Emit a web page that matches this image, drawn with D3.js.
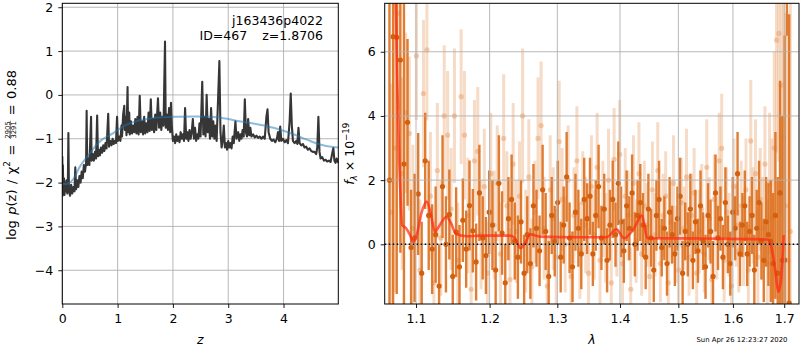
<!DOCTYPE html>
<html><head><meta charset="utf-8">
<script src="https://cdn.jsdelivr.net/npm/d3@7"></script>
<style>body{margin:0;background:#fff} text{font-family:"DejaVu Sans",sans-serif}</style>
</head><body><svg id="c" width="800" height="350"></svg>
<script>
// ---------- Left panel: log p(z) ----------
const zGrid = [0.00,0.005,0.01,0.02,0.03,0.04,0.05,0.06,0.075,0.09,
0.10,0.11,0.12,0.14,0.16,0.18,0.20,0.22,0.235,0.25,
0.27,0.29,0.31,0.33,0.35,0.37,0.39,0.41,0.43,0.44,
0.45,0.47,0.49,0.52,0.53,0.55,0.57,0.59,0.61,0.63,
0.645,0.66,0.68,0.70,0.72,0.74,0.76,0.78,0.80,0.83,
0.845,0.87,0.89,0.91,0.93,0.95,0.97,0.99,1.005,1.03,
1.05,1.07,1.08,1.10,1.12,1.13,1.15,1.16,1.18,1.19,
1.21,1.22,1.24,1.26,1.28,1.30,1.32,1.34,1.36,1.38,
1.40,1.42,1.44,1.46,1.48,1.50,1.52,1.54,1.56,1.58,
1.60,1.62,1.64,1.66,1.68,1.70,1.73,1.75,1.77,1.79,
1.81,1.83,1.857,1.87,1.89,1.91,1.93,1.95,1.965,1.98,
2.00,2.02,2.04,2.06,2.08,2.10,2.12,2.14,2.16,2.18,
2.20,2.22,2.24,2.26,2.28,2.30,2.32,2.34,2.36,2.38,
2.40,2.42,2.44,2.46,2.48,2.50,2.53,2.55,2.57,2.59,
2.61,2.63,2.65,2.67,2.69,2.71,2.73,2.75,2.77,2.79,
2.84,2.86,2.88,2.90,2.92,2.94,2.96,2.98,3.00,3.02,
3.04,3.06,3.08,3.10,3.13,3.15,3.18,3.20,3.22,3.24,
3.26,3.28,3.30,3.32,3.34,3.36,3.38,3.40,3.42,3.45,
3.48,3.51,3.54,3.57,3.60,3.63,3.66,3.69,3.71,3.73,
3.76,3.79,3.82,3.85,3.88,3.90,3.92,3.94,3.96,3.99,
4.02,4.05,4.08,4.11,4.13,4.15,4.17,4.20,4.23,4.25,
4.27,4.29,4.32,4.35,4.38,4.41,4.44,4.47,4.50,4.53,
4.56,4.59,4.61,4.63,4.65,4.67,4.70,4.73,4.76,4.79,
4.82,4.85,4.87,4.90,4.92,4.94,4.96,4.99];
const logPz = [-1.40,-2.30,-1.60,-2.25,-1.90,-2.28,-2.00,-2.20,-1.95,-2.25,
-2.10,-0.87,-2.15,-2.30,-2.05,-2.25,-2.10,-2.20,-1.65,-2.15,
-1.95,-2.10,-1.85,-2.00,-1.75,-1.90,-1.60,-1.75,-1.55,-0.36,
-1.60,-1.45,-1.60,-0.50,-1.50,-1.35,-1.50,-1.30,-1.45,-0.47,
-1.40,-1.25,-1.38,-1.20,-1.32,-1.15,-1.28,-1.10,-1.22,-0.43,
-1.18,-1.05,-1.15,-1.00,-1.12,-1.05,-1.10,-0.50,-1.05,-0.95,
-1.05,-0.70,-0.95,-0.45,-0.25,-0.80,-0.50,-0.92,0.18,-0.85,
-0.40,-0.90,-0.60,-0.88,-0.70,-0.85,-0.55,-0.88,-0.50,-0.90,
-0.02,-0.85,-0.60,-0.90,-0.50,-0.88,-0.65,-0.85,-0.40,-0.82,
-0.10,-0.80,-0.55,-0.85,-0.45,-0.80,-0.08,-0.75,-0.40,-0.80,
-0.50,-0.70,1.22,-0.75,-0.45,-0.80,-0.30,-0.85,-0.18,-0.70,
-1.05,-0.95,-1.10,-0.90,-1.05,-0.95,-1.08,-0.85,-1.00,-0.90,
-1.05,-0.30,-1.00,-0.85,-1.05,-0.80,-1.00,-0.85,-0.55,-1.00,
-0.75,-1.05,-0.90,-1.00,-0.65,-0.95,0.30,-0.90,-0.50,-0.95,
0.00,-0.85,-0.55,-1.00,-0.30,-0.95,-0.60,-1.00,-0.70,-1.05,
0.77,-0.85,-1.20,-1.05,-0.70,-1.20,-1.10,-1.25,-1.05,-1.20,
-1.10,-1.22,-0.95,-1.10,-0.60,-1.00,-0.85,-1.05,-0.90,-1.00,
-0.80,-0.95,-0.10,-0.85,-0.95,-0.55,-0.92,-0.75,-0.95,-0.90,
-0.97,-0.93,-0.98,-0.95,-1.00,-0.95,-1.00,-0.50,-0.33,-0.85,
-1.00,-1.05,-1.02,-1.08,-1.00,-0.85,-1.05,-0.72,-1.05,-1.00,
-1.08,-1.03,-1.10,-0.60,0.03,-0.70,-1.05,-1.10,-1.05,-1.12,
-0.75,-1.10,-1.15,-1.12,-1.20,-1.18,-1.25,-1.22,-1.28,-1.30,
-1.30,-1.35,-1.20,-0.50,-1.30,-1.45,-1.42,-1.50,-1.48,-1.52,
-1.50,-1.53,-1.40,-1.21,-1.50,-1.55,-1.45,-1.55];
const zSmooth = [0,0.1,0.2,0.32,0.5,0.68,0.92,1.16,1.4,1.68,2.0,2.4,2.8,3.2,3.57,3.82,4.12,4.42,4.66,4.9,4.99];
const logPSmooth = [-2.03,-2.02,-1.92,-1.63,-1.33,-1.06,-0.87,-0.68,-0.58,-0.52,-0.5,-0.49,-0.51,-0.6,-0.68,-0.75,-0.87,-1.02,-1.13,-1.19,-1.2];
const zTicks = [0,1,2,3,4];
const pTicks = [-4,-3,-2,-1,0,1,2];

// ---------- Right panel: spectrum ----------
const waveA = [1.0660,1.0706,1.0752,1.0798,1.0844,1.0890,1.0936,1.0982,1.1028,1.1074,
1.1120,1.1166,1.1212,1.1258,1.1304,1.1350,1.1396,1.1442,1.1488,1.1534,
1.1580,1.1626,1.1672,1.1718,1.1764,1.1810,1.1856,1.1902,1.1948,1.1994,
1.2040,1.2086,1.2132,1.2178,1.2224,1.2270,1.2316,1.2362,1.2408,1.2454,
1.2500,1.2546,1.2592,1.2638,1.2684,1.2730,1.2776,1.2822,1.2868,1.2914,
1.2960,1.3006,1.3052,1.3098,1.3144,1.3190,1.3236,1.3282,1.3328,1.3374,
1.3420,1.3466,1.3512,1.3558,1.3604,1.3650,1.3696,1.3742,1.3788,1.3834,
1.3880,1.3926,1.3972,1.4018,1.4064,1.4110,1.4156,1.4202,1.4248,1.4294,
1.4340,1.4386,1.4432,1.4478,1.4524,1.4570,1.4616,1.4662,1.4708,1.4754,
1.4800,1.4846,1.4892,1.4938,1.4984,1.5030,1.5076,1.5122,1.5168,1.5214,
1.5260,1.5306,1.5352,1.5398,1.5444,1.5490,1.5536,1.5582,1.5628,1.5674,
1.5720,1.5766,1.5812,1.5858,1.5904,1.5950,1.5996,1.6042,1.6088,1.6134,
1.6180,1.6226,1.6272,1.6318,1.6364,1.6410,1.6456,1.6502,1.6548,1.6594,
1.6640,1.6686,1.6732,1.6778,1.6824,1.6870,1.6916,1.6962,1.7008,1.7054,1.7100];
const fluxA = [2.0,6.47,6.45,5.74,2.5,3.8,
-0.1,0.2,1.57,-0.9,2.6,0.9,-0.15,0.3,-1.3,1.8,0.0,0.93,-1.0,0.38,-0.7,
0.75,-0.15,1.21,0.42,-0.55,1.6,0.2,-0.35,1.0,0.6,-0.8,1.9,0.35,-1.2,0.8,1.4,0.1,-0.4,0.7,-0.9,
0.3,-0.6,1.2,0.5,-0.2,1.7,0.4,-1.0,0.9,0.1,1.3,-0.4,0.6,2.1,0.2,-0.7,1.0,0.5,-0.3,1.4,
0.8,1.5,-0.3,0.9,1.8,0.2,1.1,-0.5,0.6,1.4,0.3,1.9,0.7,-0.2,1.2,0.5,1.6,0.0,0.9,1.3,
0.6,-0.4,1.1,0.2,-0.8,0.9,1.4,-0.1,0.5,-0.6,1.0,0.3,-0.3,0.8,1.5,-0.9,0.4,0.0,1.1,-0.5,
0.7,-0.2,1.2,0.1,-0.7,0.9,0.4,-1.0,1.6,0.2,0.8,-0.4,1.3,0.0,-0.6,1.0,0.5,2.2,-0.3,0.6,
1.2,-0.3,0.4,0.9,-0.8,0.5,1.3,0.1,-0.5,0.7,0.3,
0.1,-0.6,0.9,-0.9,1.6,-0.5,-0.49,12.0,-1.83];
const errA = [9.0,9.0,8.0,6.0,5.0,2.6,
1.8,2.0,1.9,1.6,1.5,1.7,1.4,1.5,1.3,1.6,1.5,1.4,1.3,1.4,1.3,
1.3,1.2,1.4,1.3,1.2,1.5,1.3,1.2,1.3,1.4,1.2,1.5,1.3,1.2,1.3,1.4,1.2,1.3,1.3,1.2,
1.2,1.1,1.3,1.2,1.1,1.4,1.2,1.1,1.2,1.1,1.3,1.1,1.2,1.4,1.1,1.1,1.2,1.2,1.1,1.3,
1.1,1.2,1.0,1.1,1.3,1.0,1.1,1.0,1.1,1.2,1.0,1.3,1.1,1.0,1.1,1.0,1.2,1.0,1.1,1.2,
1.0,1.0,1.1,0.9,1.0,1.1,1.2,0.9,1.0,1.0,1.1,0.9,1.0,1.0,1.2,1.0,0.9,1.0,1.1,0.9,
1.0,1.0,1.1,0.9,1.0,1.0,1.0,1.1,1.2,1.0,1.0,1.0,1.1,0.9,1.0,1.1,1.0,1.3,1.0,1.0,
1.1,1.0,1.1,1.2,1.1,1.2,1.3,1.2,1.3,1.4,1.6,
1.9,2.2,2.6,3.0,3.5,4.5,7.0,5.5,9.0];
const waveB = [1.0683,1.0729,1.0775,1.0821,1.0867,1.0913,1.0959,1.1005,1.1051,1.1097,
1.1143,1.1189,1.1235,1.1281,1.1327,1.1373,1.1419,1.1465,1.1511,1.1557,
1.1603,1.1649,1.1695,1.1741,1.1787,1.1833,1.1879,1.1925,1.1971,1.2017,
1.2063,1.2109,1.2155,1.2201,1.2247,1.2293,1.2339,1.2385,1.2431,1.2477,
1.2523,1.2569,1.2615,1.2661,1.2707,1.2753,1.2799,1.2845,1.2891,1.2937,
1.2983,1.3029,1.3075,1.3121,1.3167,1.3213,1.3259,1.3305,1.3351,1.3397,
1.3443,1.3489,1.3535,1.3581,1.3627,1.3673,1.3719,1.3765,1.3811,1.3857,
1.3903,1.3949,1.3995,1.4041,1.4087,1.4133,1.4179,1.4225,1.4271,1.4317,
1.4363,1.4409,1.4455,1.4501,1.4547,1.4593,1.4639,1.4685,1.4731,1.4777,
1.4823,1.4869,1.4915,1.4961,1.5007,1.5053,1.5099,1.5145,1.5191,1.5237,
1.5283,1.5329,1.5375,1.5421,1.5467,1.5513,1.5559,1.5605,1.5651,1.5697,
1.5743,1.5789,1.5835,1.5881,1.5927,1.5973,1.6019,1.6065,1.6111,1.6157,
1.6203,1.6249,1.6295,1.6341,1.6387,1.6433,1.6479,1.6525,1.6571,1.6617,
1.6663,1.6709,1.6755,1.6801,1.6847,1.6893,1.6939,1.6985,1.7031,1.7077,1.7123];
const fluxB = [1.0,3.0,7.2,2.2,4.1,3.45,0.5,5.87,-0.8,4.7,
6.06,1.5,-1.2,2.3,0.2,4.0,3.4,1.1,4.0,-0.5,
4.6,3.4,0.9,-1.4,2.6,2.9,0.3,1.8,-0.9,2.2,
0.6,1.9,-0.3,3.3,1.2,-1.1,2.5,0.4,1.5,4.0,
0.1,2.1,-0.7,1.0,3.3,3.7,0.5,-1.3,1.7,0.8,
-0.4,3.2,1.4,0.0,2.0,-1.0,0.9,2.6,-0.2,1.3,
0.6,-0.9,1.8,0.3,2.4,-0.5,1.1,0.2,2.0,-1.2,
2.65,0.4,2.8,-0.6,1.5,0.9,-1.4,1.9,0.1,2.2,
-0.3,1.2,0.6,-1.0,1.7,0.3,2.3,-0.6,0.9,1.5,
-1.2,0.7,1.9,0.0,-0.8,1.3,0.5,2.1,-0.4,0.9,
1.6,-0.9,0.4,1.1,-0.3,2.4,0.8,-1.1,1.4,0.2,
2.6,2.99,-0.5,1.0,0.3,-1.3,1.8,0.6,-0.2,1.2,
0.1,1.7,-0.8,3.22,0.9,2.2,-0.4,1.4,0.5,2.5,
-0.6,1.9,0.8,3.0,6.36,6.57,4.96,3.33,1.2,-0.5,0.4];
const errB = [4.0,4.5,3.0,3.0,2.5,2.4,2.6,2.0,2.2,2.3,
2.2,2.0,1.9,2.1,1.8,2.2,2.0,1.9,2.1,1.8,
2.1,2.0,1.8,1.7,1.9,2.0,1.7,1.8,1.6,1.9,
1.7,1.8,1.6,2.0,1.7,1.6,1.9,1.6,1.7,2.1,
1.6,1.8,1.5,1.6,1.9,2.0,1.6,1.5,1.7,1.6,
1.5,1.9,1.6,1.5,1.7,1.4,1.5,1.7,1.5,1.6,
1.5,1.4,1.6,1.4,1.7,1.4,1.5,1.4,1.6,1.3,
1.6,1.4,1.7,1.3,1.5,1.4,1.3,1.5,1.3,1.6,
1.3,1.4,1.3,1.2,1.5,1.3,1.5,1.2,1.3,1.4,
1.2,1.3,1.5,1.2,1.2,1.4,1.3,1.5,1.2,1.3,
1.4,1.2,1.3,1.4,1.2,1.5,1.3,1.2,1.4,1.3,
1.5,1.7,1.3,1.4,1.3,1.2,1.5,1.3,1.3,1.4,
1.4,1.6,1.4,1.9,1.5,1.7,1.5,1.6,1.6,1.8,
2.0,2.2,2.5,3.0,3.5,4.0,4.0,4.5,6.0,7.0,8.0];
const modelWave = [1.0700,1.0740,1.0760,1.0785,1.0805,1.0820,1.0872,1.0920,1.0965,1.1010,
1.1070,1.1139,1.1190,1.1248,1.1300,1.1403,1.1460,1.1534,1.1680,1.1864,
1.2291,1.2364,1.2447,1.2510,1.2595,1.2735,1.3351,1.3778,1.3940,1.4067,
1.4218,1.4370,1.4460,1.5500,1.6670,1.6743,1.6810,1.6890,1.6940,1.6990];
const modelFlux = [10.0,7.5,5.0,2.5,1.2,0.6,0.5,0.3,0.08,0.3,
0.97,1.33,1.0,0.39,0.55,0.86,0.68,0.32,0.25,0.27,
0.27,0.19,-0.12,0.03,0.31,0.24,0.22,0.22,0.47,0.19,
0.45,0.90,0.19,0.18,0.15,-0.07,-0.69,-1.48,-1.0,0.29];
const lamTicks = [1.1,1.2,1.3,1.4,1.5,1.6,1.7];
const fTicks = [0,2,4,6];

// ---------- drawing ----------
const svg = d3.select('#c');
const FS = 12.5;
const L = {x0:62.3, x1:338.3, y0:3.3, y1:304};
const R = {x0:384.7, x1:799, y0:3.3, y1:304};
const xL = d3.scaleLinear().domain([0,4.99]).range([L.x0,L.x1]);
const yL = d3.scaleLinear().domain([-4.77,2.09]).range([L.y1,L.y0]);
const xR = d3.scaleLog().domain([1.06,1.73]).range([R.x0,R.x1]);
const yR = d3.scaleLinear().domain([-1.86,7.51]).range([R.y1,R.y0]);

const defs = svg.append('defs');
defs.append('clipPath').attr('id','clipL').append('rect').attr('x',L.x0).attr('y',L.y0).attr('width',L.x1-L.x0).attr('height',L.y1-L.y0);
defs.append('clipPath').attr('id','clipR').append('rect').attr('x',R.x0).attr('y',R.y0).attr('width',R.x1-R.x0).attr('height',R.y1-R.y0);

function grid(g, P, xs, ys, xt, yt) {
  g.selectAll('line.gx').data(xt).join('line').attr('class','gx')
    .attr('x1',d=>xs(d)).attr('x2',d=>xs(d)).attr('y1',P.y0).attr('y2',P.y1)
    .attr('stroke','#b0b0b0').attr('stroke-width',0.9);
  g.selectAll('line.gy').data(yt).join('line').attr('class','gy')
    .attr('x1',P.x0).attr('x2',P.x1).attr('y1',d=>ys(d)).attr('y2',d=>ys(d))
    .attr('stroke','#b0b0b0').attr('stroke-width',0.9);
}
function styleAxis(g) {
  g.attr('font-size',FS).attr('font-family','DejaVu Sans');
  g.select('.domain').remove();
  g.selectAll('.tick line').attr('stroke','#000').attr('stroke-width',0.9);
  g.selectAll('.tick text').attr('fill','#000');
}

// Left panel
const gLg = svg.append('g');
grid(gLg, L, xL, yL, zTicks, pTicks);
const gL = svg.append('g').attr('clip-path','url(#clipL)');
gL.append('path').datum(d3.zip(zGrid, logPz))
  .attr('d', d3.line().x(d=>xL(d[0])).y(d=>yL(d[1])))
  .attr('fill','none').attr('stroke','#363636').attr('stroke-width',2.1).attr('stroke-linejoin','round');
gL.append('path').datum(d3.zip(zSmooth, logPSmooth))
  .attr('d', d3.line().curve(d3.curveCatmullRom).x(d=>xL(d[0])).y(d=>yL(d[1])))
  .attr('fill','none').attr('stroke','#1f77b4').attr('stroke-opacity',0.5).attr('stroke-width',2);

svg.append('g').attr('transform',`translate(0,${L.y1})`)
  .call(d3.axisBottom(xL).tickValues(zTicks).tickSize(4).tickPadding(6).tickFormat(d3.format('d'))).call(styleAxis);
svg.append('g').attr('transform',`translate(${L.x0},0)`)
  .call(d3.axisLeft(yL).tickValues(pTicks).tickSize(4).tickPadding(5).tickFormat(d3.format('d'))).call(styleAxis);
svg.append('rect').attr('x',L.x0).attr('y',L.y0).attr('width',L.x1-L.x0).attr('height',L.y1-L.y0)
  .attr('fill','none').attr('stroke','#000').attr('stroke-width',1);

svg.append('text').attr('x',323).attr('y',25).attr('text-anchor','end').attr('font-size',FS).text('j163436p4022');
svg.append('text').attr('x',199.5).attr('y',39.5).attr('font-size',FS).text('ID=467');
svg.append('text').attr('x',323).attr('y',39.5).attr('text-anchor','end').attr('font-size',FS).text('z=1.8706');

// Right panel
const gR = svg.append('g').attr('clip-path','url(#clipR)');
const ptsB = d3.zip(waveB, fluxB, errB);
const ptsA = d3.zip(waveA, fluxA, errA);
gR.selectAll('line.eb').data(ptsB).join('line').attr('class','eb')
  .attr('x1',d=>xR(d[0])).attr('x2',d=>xR(d[0])).attr('y1',d=>yR(d[1]-d[2])).attr('y2',d=>yR(d[1]+d[2]))
  .attr('stroke','#e8a06a').attr('stroke-opacity',0.38).attr('stroke-width',3);
gR.selectAll('circle.mb').data(ptsB).join('circle').attr('class','mb')
  .attr('cx',d=>xR(d[0])).attr('cy',d=>yR(d[1])).attr('r',2.6)
  .attr('fill','#e8a06a').attr('fill-opacity',0.5);
gR.selectAll('line.ea').data(ptsA).join('line').attr('class','ea')
  .attr('x1',d=>xR(d[0])).attr('x2',d=>xR(d[0])).attr('y1',d=>yR(d[1]-d[2])).attr('y2',d=>yR(d[1]+d[2]))
  .attr('stroke','#dd6f1d').attr('stroke-opacity',0.9).attr('stroke-width',2.4);
gR.selectAll('circle.ma').data(ptsA).join('circle').attr('class','ma')
  .attr('cx',d=>xR(d[0])).attr('cy',d=>yR(d[1])).attr('r',2.6)
  .attr('fill','#d2600f');
const gRg = svg.append('g');
grid(gRg, R, xR, yR, lamTicks, fTicks);
const gR2 = svg.append('g').attr('clip-path','url(#clipR)');
gR2.append('path').datum(d3.zip(modelWave, modelFlux))
  .attr('d', d3.line().curve(d3.curveMonotoneX).x(d=>xR(d[0])).y(d=>yR(d[1])))
  .attr('fill','none').attr('stroke','#ff2a14').attr('stroke-opacity',0.72).attr('stroke-width',2.6);
gR2.append('line').attr('x1',R.x0).attr('x2',R.x1).attr('y1',yR(0)).attr('y2',yR(0))
  .attr('stroke','#000').attr('stroke-width',1.5).attr('stroke-dasharray','1.5,2.5');

svg.append('g').attr('transform',`translate(0,${R.y1})`)
  .call(d3.axisBottom(xR).tickValues(lamTicks).tickSize(4).tickPadding(6).tickFormat(d3.format('.1f'))).call(styleAxis);
svg.append('g').attr('transform',`translate(${R.x0},0)`)
  .call(d3.axisLeft(yR).tickValues(fTicks).tickSize(4).tickPadding(5).tickFormat(d3.format('d'))).call(styleAxis);
svg.append('rect').attr('x',R.x0).attr('y',R.y0).attr('width',R.x1-R.x0).attr('height',R.y1-R.y0)
  .attr('fill','none').attr('stroke','#000').attr('stroke-width',1);

// axis labels
svg.append('text').attr('x',(L.x0+L.x1)/2).attr('y',344).attr('text-anchor','middle')
  .attr('font-size',FS).attr('font-style','italic').text('z');
svg.append('text').attr('x',(R.x0+R.x1)/2).attr('y',344).attr('text-anchor','middle')
  .attr('font-size',FS).attr('font-style','italic').text('λ');
svg.append('text').attr('x',787.5).attr('y',342).attr('text-anchor','end').attr('font-size',6.9).text('Sun Apr 26 12:23:27 2020');

// right y label
const yl2 = svg.append('text').attr('transform','translate(354,153.7) rotate(-90)').attr('text-anchor','middle').attr('font-size',FS);
yl2.append('tspan').attr('font-style','italic').text('f');
yl2.append('tspan').attr('font-style','italic').attr('font-size',8.7).attr('dy',3).text('λ');
yl2.append('tspan').attr('dy',-3).text(' × 10');
yl2.append('tspan').attr('font-size',8.7).attr('dy',-5).text('−19');

// left y label: pieces laid out along the rotated axis with even gaps, total length ~170 centred at y=155
const LFS = 13;
const gy = svg.append('g').attr('transform','translate(15.5,155) rotate(-90)');
const inner = gy.append('g');
const pieces = [];
function addText(build){ const t = inner.append('text').attr('font-size', LFS); build(t); pieces.push({node:t, w:t.node().getComputedTextLength(), kind:'t'}); }
addText(t => t.text('log'));
addText(t => { t.append('tspan').attr('font-style','italic').text('p'); t.append('tspan').text('(z)'); });
addText(t => t.text('/'));
addText(t => { t.append('tspan').text('χ'); t.append('tspan').attr('font-size', 9).attr('dy', -5.5).text('2'); });
addText(t => t.text('='));
// fraction
const fr = inner.append('g');
const num = fr.append('text').attr('font-size', 6.8).attr('y', -6.0).attr('text-anchor','middle').text('2905');
const den = fr.append('text').attr('font-size', 6.8).attr('y', 0).attr('text-anchor','middle').text('3291');
const wf = Math.max(num.node().getComputedTextLength(), den.node().getComputedTextLength()) + 1;
fr.append('line').attr('x1', -wf/2).attr('x2', wf/2).attr('y1', -5.2).attr('y2', -5.2).attr('stroke','#000').attr('stroke-width',0.55);
pieces.push({node:fr, w:wf, kind:'f'});
addText(t => t.text('='));
addText(t => t.text('0.88'));
const sumW = d3.sum(pieces, p => p.w);
const gap = (170 - sumW) / (pieces.length - 1);
let u = 0;
pieces.forEach(p => {
  if (p.kind === 'f') p.node.attr('transform', `translate(${u + p.w/2},0)`);
  else p.node.attr('x', u);
  u += p.w + gap;
});
inner.attr('transform', `translate(${-(u - gap)/2},0)`);
</script></body></html>
